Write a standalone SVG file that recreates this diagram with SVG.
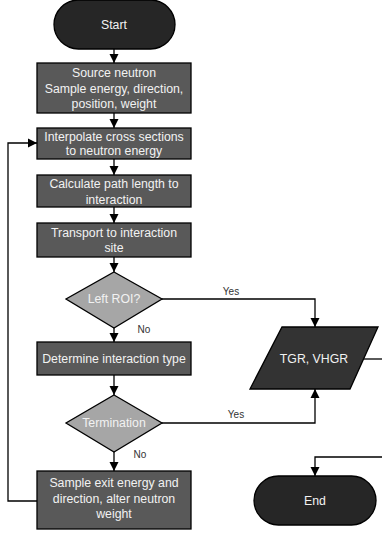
<svg xmlns="http://www.w3.org/2000/svg" width="382" height="533" viewBox="0 0 382 533">
<defs>
<marker id="ah" markerWidth="10" markerHeight="10" refX="9" refY="5" orient="auto" markerUnits="userSpaceOnUse">
<path d="M0,0.5 L9,5 L0,9.5 z" fill="#000"/>
</marker>
<style>
.term{fill:#262626;stroke:#000;stroke-width:1.3}
.box{fill:#595959;stroke:#000;stroke-width:1.3}
.dia{fill:#a6a6a6;stroke:#000;stroke-width:1.3}
.io{fill:#333333;stroke:#000;stroke-width:1.3}
.t{font-family:"Liberation Sans",Arial,sans-serif;font-size:12.3px;fill:#f2f2f2;text-anchor:middle}
.lbl{font-family:"Liberation Sans",Arial,sans-serif;font-size:10px;fill:#333;text-anchor:middle}
.c{fill:none;stroke:#000;stroke-width:1.3}
</style>
</defs>
<g id="connectors">
<path class="c" d="M114,49 V63" marker-end="url(#ah)"/>
<path class="c" d="M114,113 V128" marker-end="url(#ah)"/>
<path class="c" d="M114,159 V175" marker-end="url(#ah)"/>
<path class="c" d="M114,207 V223" marker-end="url(#ah)"/>
<path class="c" d="M114,257 V272" marker-end="url(#ah)"/>
<path class="c" d="M114,328 V342" marker-end="url(#ah)"/>
<path class="c" d="M114,375 V395" marker-end="url(#ah)"/>
<path class="c" d="M114,452 V471" marker-end="url(#ah)"/>
<path class="c" d="M37,501 H8 V143 H37" marker-end="url(#ah)"/>
<path class="c" d="M162,299 H315 V327" marker-end="url(#ah)"/>
<path class="c" d="M162,423 H315 V389" marker-end="url(#ah)"/>
<path class="c" d="M364,359 H382"/>
<path class="c" d="M382,457 H315 V476" marker-end="url(#ah)"/>
<text class="lbl" x="231" y="295">Yes</text>
<text class="lbl" x="236" y="418">Yes</text>
<text class="lbl" x="144" y="333">No</text>
<text class="lbl" x="140" y="458">No</text>
</g>
<g id="start">
<rect class="term" x="54" y="0" width="121" height="49" rx="24.5"/>
<text class="t" x="114" y="29">Start</text>
</g>
<g id="source">
<rect class="box" x="37" y="63" width="154" height="50"/>
<text class="t" x="114" y="77">Source neutron</text>
<text class="t" x="114" y="93">Sample energy, direction,</text>
<text class="t" x="114" y="108">position, weight</text>
</g>
<g id="interpolate">
<rect class="box" x="37" y="128" width="154" height="31"/>
<text class="t" x="114" y="141">Interpolate cross sections</text>
<text class="t" x="114" y="155">to neutron energy</text>
</g>
<g id="calculate">
<rect class="box" x="37" y="175" width="154" height="32"/>
<text class="t" x="114" y="188">Calculate path length to</text>
<text class="t" x="114" y="204">interaction</text>
</g>
<g id="transport">
<rect class="box" x="37" y="223" width="154" height="34"/>
<text class="t" x="114" y="237">Transport to interaction</text>
<text class="t" x="114" y="252">site</text>
</g>
<g id="leftroi">
<polygon class="dia" points="114,272 162,299 114,328 66,299"/>
<text class="t" x="114" y="303">Left ROI?</text>
</g>
<g id="determine">
<rect class="box" x="37" y="342" width="154" height="33"/>
<text class="t" x="114" y="363">Determine interaction type</text>
</g>
<g id="termination">
<polygon class="dia" points="114,395 162,423 114,452 66,423"/>
<text class="t" x="114" y="427">Termination</text>
</g>
<g id="sample">
<rect class="box" x="37" y="471" width="154" height="58"/>
<text class="t" x="114" y="487">Sample exit energy and</text>
<text class="t" x="114" y="503">direction, alter neutron</text>
<text class="t" x="114" y="518">weight</text>
</g>
<g id="tgr">
<polygon class="io" points="282,327 378,327 350,389 250,389"/>
<text class="t" x="314" y="363">TGR, VHGR</text>
</g>
<g id="end">
<rect class="term" x="254" y="476" width="122" height="49" rx="24.5"/>
<text class="t" x="315" y="505">End</text>
</g>
</svg>
